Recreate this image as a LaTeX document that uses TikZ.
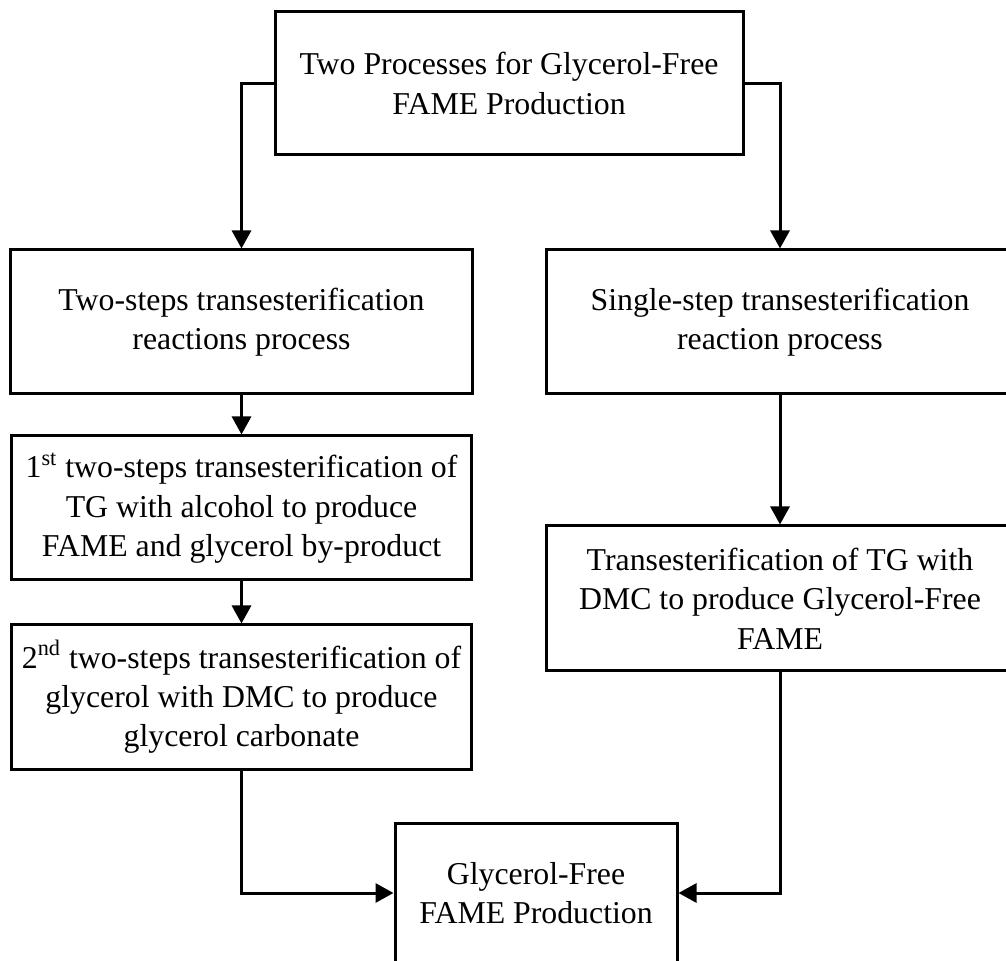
\documentclass[tikz,border=0pt]{standalone}
\usepackage{fontspec}
\setmainfont{Liberation Serif}
\usetikzlibrary{arrows.meta}

\begin{document}
\begin{tikzpicture}[x=0.5pt, y=-0.5pt, line width=1.5pt,
  box/.style={draw, rectangle, align=center, inner sep=0pt, font=\fontsize{15.9}{19.7}\selectfont},
  flow/.style={-{Triangle[length=9pt, width=9.5pt]}}]

\useasboundingbox (0, 0) rectangle (1006, 961);

% draw top box
\node[box, minimum width=234pt, minimum height=71.5pt] (start) at (509, 83.5) {Two Processes for Glycerol-Free\\FAME Production};

% draw left branch
\node[box, minimum width=231pt, minimum height=72pt] (twostep) at (241.5, 322) {Two-steps transesterification\\reactions process};
\node[box, minimum width=230pt, minimum height=72pt] (firststep) at (241.5, 508) {1\textsuperscript{st} two-steps transesterification of\\TG with alcohol to produce\\FAME and glycerol by-product};
\node[box, minimum width=230pt, minimum height=72pt] (secondstep) at (241.5, 697) {2\textsuperscript{nd} two-steps transesterification of\\glycerol with DMC to produce\\glycerol carbonate};

% draw right branch
\node[box, minimum width=234pt, minimum height=72pt] (onestep) at (780, 322) {Single-step transesterification\\reaction process};
\node[box, minimum width=234pt, minimum height=72.5pt] (dmcstep) at (780, 598.5) {Transesterification of TG with\\DMC to produce Glycerol-Free\\FAME};

% draw product box
\node[box, minimum width=141pt, minimum height=70pt] (product) at (536, 893) {Glycerol-Free\\FAME Production};

% draw arrows
\draw[flow] (start.west) -| (twostep.north);
\draw[flow] (start.east) -| (onestep.north);
\draw[flow] (twostep.south) -- (firststep.north);
\draw[flow] (firststep.south) -- (secondstep.north);
\draw[flow] (onestep.south) -- (dmcstep.north);
\draw[flow] (secondstep.south) |- (product.west);
\draw[flow] (dmcstep.south) |- (product.east);

\end{tikzpicture}
\end{document}
